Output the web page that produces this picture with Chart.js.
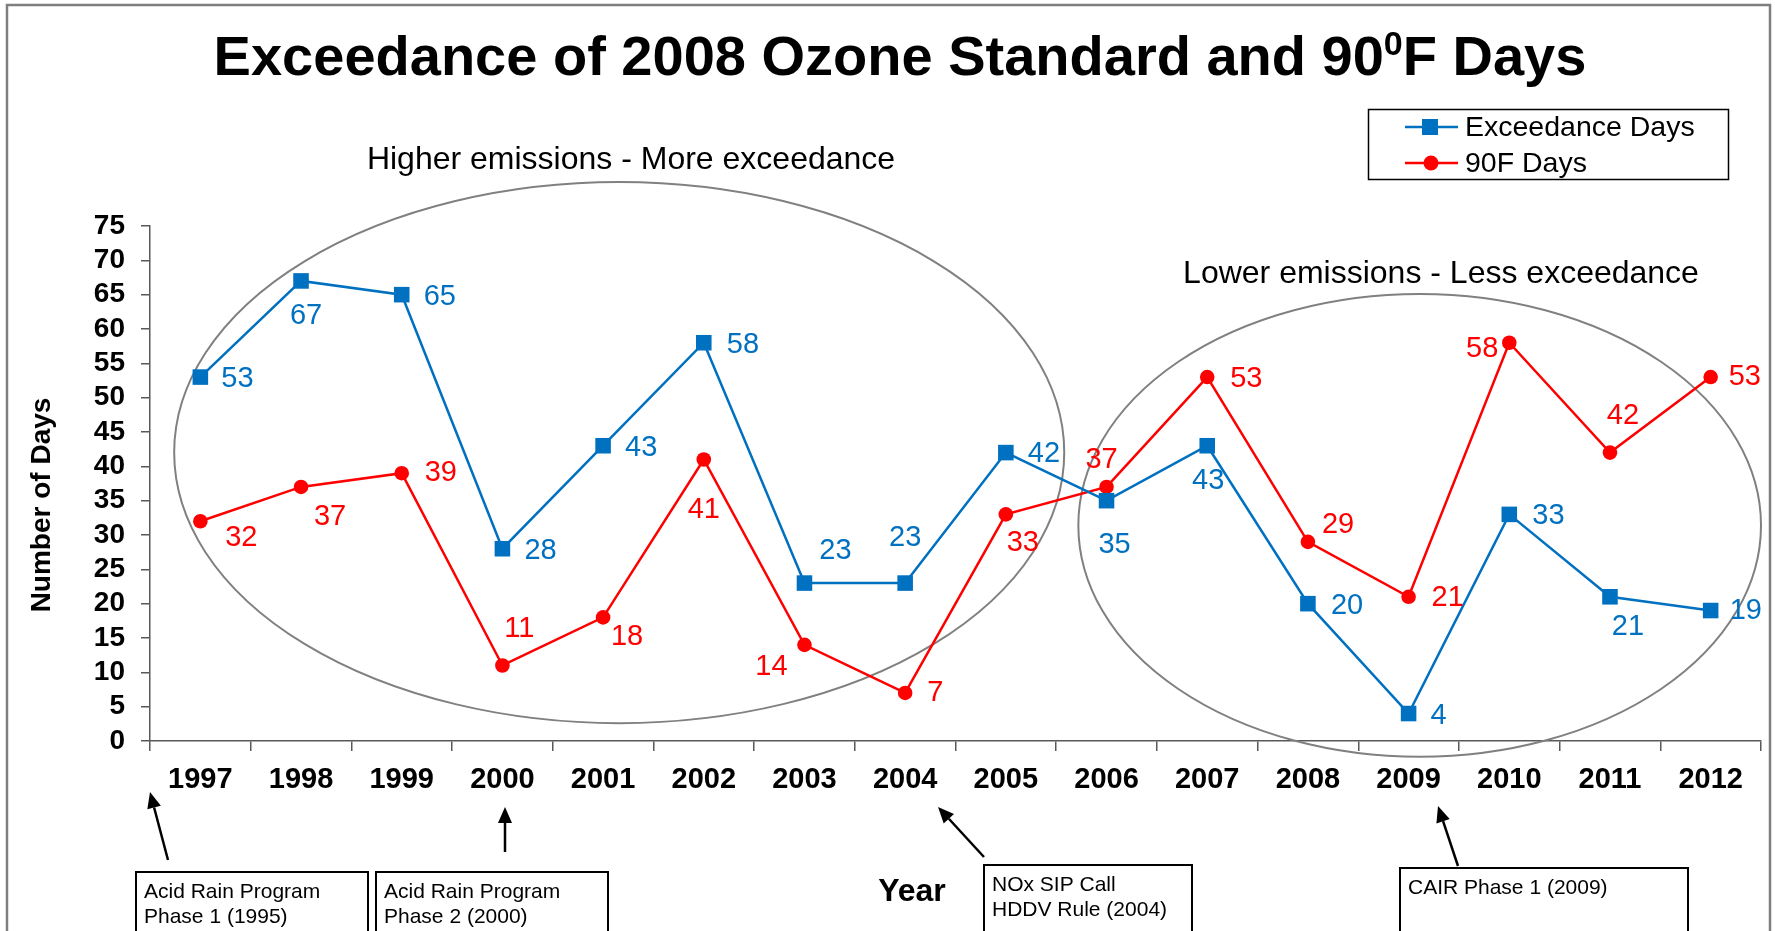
<!DOCTYPE html>
<html>
<head>
<meta charset="utf-8">
<title>Exceedance of 2008 Ozone Standard and 90F Days</title>
<script src="https://cdn.jsdelivr.net/npm/chart.js@4.4.1/dist/chart.umd.min.js"></script>
<style>
  html, body { margin: 0; padding: 0; background: #fff; }
  #wrap { width: 1775px; height: 931px; position: relative; overflow: hidden; }
</style>
</head>
<body>
<div id="wrap"><canvas id="chart" width="1775" height="931"></canvas></div>
<script>
// data
var years = ['1997', '1998', '1999', '2000', '2001', '2002', '2003', '2004',
             '2005', '2006', '2007', '2008', '2009', '2010', '2011', '2012'];
var exceedanceDays = [53, 67, 65, 28, 43, 58, 23, 23, 42, 35, 43, 20, 4, 33, 21, 19];
var hotDays = [32, 37, 39, 11, 18, 41, 14, 7, 33, 37, 53, 29, 21, 58, 42, 53];
var seriesNames = ['Exceedance Days', '90F Days'];
var yMin = 0, yMax = 75, yStep = 5;

var BLUE = '#0070C0',
    RED = '#FF0000',
    FONT = '"Liberation Sans", Arial, sans-serif';

// where each value label sits relative to its point: [align, dx, dy]
var labelSpots = [
  [['left', 21, 2], ['center', 5, 35], ['left', 22, 2], ['left', 22, 2], ['left', 22, 2],
   ['left', 23, 2], ['center', 31, -32], ['center', 0, -45], ['left', 22, 1], ['center', 8, 44],
   ['center', 1, 35], ['left', 23, 2], ['left', 22, 2], ['left', 23, 2], ['center', 18, 30],
   ['left', 19, 0]],
  [['center', 41, 17], ['center', 29, 30], ['left', 23, 0], ['center', 17, -36], ['center', 24, 20],
   ['center', 0, 51], ['center', -33, 22], ['left', 22, 0], ['center', 17, 29], ['center', -5, -27],
   ['left', 23, 2], ['left', 14, -17], ['left', 23, 1], ['right', -11, 6], ['center', 13, -37],
   ['left', 18, 0]]
];

// ellipses in axis units (category index, days)
var ellipses = [
  { cx: 4.16, cy: 42, rx: 4.42, ry: 39.4 },
  { cx: 12.11, cy: 31.4, rx: 3.39, ry: 33.7 }
];

var notes = [
  { text: 'Higher emissions - More exceedance', x: 631, y: 160 },
  { text: 'Lower emissions - Less exceedance', x: 1441, y: 274 }
];

var arrows = [
  { from: [168, 860], to: [150, 792] },
  { from: [505, 852], to: [505, 807] },
  { from: [984, 857], to: [938, 807] },
  { from: [1458, 866], to: [1438, 806] }
];

var boxes = [
  { x: 136, y: 872, w: 232, lines: ['Acid Rain Program', 'Phase 1 (1995)'] },
  { x: 376, y: 872, w: 232, lines: ['Acid Rain Program', 'Phase 2 (2000)'] },
  { x: 984, y: 865, w: 208, lines: ['NOx SIP Call', 'HDDV Rule (2004)'] },
  { x: 1400, y: 868, w: 288, lines: ['CAIR Phase 1 (2009)'] }
];


function drawTitle(ctx) {
  var parts = [
    { t: 'Exceedance of 2008 Ozone Standard and 90', size: 56, rise: 0 },
    { t: '0', size: 34, rise: 20 },
    { t: 'F Days', size: 56, rise: 0 }
  ];
  var total = 0;
  parts.forEach(function (p) {
    ctx.font = 'bold ' + p.size + 'px ' + FONT;
    p.w = ctx.measureText(p.t).width;
    total += p.w;
  });
  var x = 900 - total / 2;
  ctx.fillStyle = '#000';
  ctx.textAlign = 'left';
  ctx.textBaseline = 'alphabetic';
  parts.forEach(function (p) {
    ctx.font = 'bold ' + p.size + 'px ' + FONT;
    ctx.fillText(p.t, x, 75 - p.rise);
    x += p.w;
  });
}

function drawLegend(chart) {
  var ctx = chart.ctx;
  ctx.save();
  ctx.strokeStyle = '#000';
  ctx.lineWidth = 1.5;
  ctx.strokeRect(1368.5, 109.5, 360, 70);
  chart.data.datasets.forEach(function (ds, i) {
    var y = 127 + i * 36;
    ctx.strokeStyle = ds.borderColor;
    ctx.lineWidth = 2.5;
    ctx.beginPath();
    ctx.moveTo(1405, y);
    ctx.lineTo(1458, y);
    ctx.stroke();
    ctx.fillStyle = ds.borderColor;
    if (ds.pointStyle === 'rect') {
      ctx.fillRect(1422, y - 8, 16, 16);
    } else {
      ctx.beginPath();
      ctx.arc(1431, y, 7.5, 0, Math.PI * 2);
      ctx.fill();
    }
    ctx.fillStyle = '#000';
    ctx.font = '28.5px ' + FONT;
    ctx.textAlign = 'left';
    ctx.textBaseline = 'middle';
    ctx.fillText(ds.label, 1465, y + 1);
  });
  ctx.restore();
}

function drawArrow(ctx, a) {
  var dx = a.to[0] - a.from[0], dy = a.to[1] - a.from[1];
  var len = Math.sqrt(dx * dx + dy * dy), ux = dx / len, uy = dy / len;
  var head = 16, half = 7;
  var bx = a.to[0] - ux * head, by = a.to[1] - uy * head;
  ctx.strokeStyle = '#000';
  ctx.fillStyle = '#000';
  ctx.lineWidth = 2.5;
  ctx.beginPath();
  ctx.moveTo(a.from[0], a.from[1]);
  ctx.lineTo(bx, by);
  ctx.stroke();
  ctx.beginPath();
  ctx.moveTo(a.to[0], a.to[1]);
  ctx.lineTo(bx - uy * half, by + ux * half);
  ctx.lineTo(bx + uy * half, by - ux * half);
  ctx.closePath();
  ctx.fill();
}

var overlay = {
  id: 'overlay',
  beforeDatasetsDraw: function (chart) {
    var ctx = chart.ctx, xs = chart.scales.x, ys = chart.scales.y;
    var perCat = xs.getPixelForValue(1) - xs.getPixelForValue(0);
    var perDay = ys.getPixelForValue(0) - ys.getPixelForValue(1);
    ctx.save();
    ctx.strokeStyle = '#808080';
    ctx.lineWidth = 2;
    ellipses.forEach(function (e) {
      ctx.beginPath();
      ctx.ellipse(xs.getPixelForValue(e.cx), ys.getPixelForValue(e.cy),
                  e.rx * perCat, e.ry * perDay, 0, 0, Math.PI * 2);
      ctx.stroke();
    });
    ctx.restore();
  },
  afterDatasetsDraw: function (chart) {
    var ctx = chart.ctx;
    ctx.save();
    ctx.font = '29px ' + FONT;
    ctx.textBaseline = 'middle';
    chart.data.datasets.forEach(function (ds, i) {
      var meta = chart.getDatasetMeta(i);
      ctx.fillStyle = ds.borderColor;
      meta.data.forEach(function (pt, j) {
        var spot = labelSpots[i][j];
        ctx.textAlign = spot[0];
        ctx.fillText(String(ds.data[j]), pt.x + spot[1], pt.y + spot[2]);
      });
    });
    ctx.restore();
  },
  afterDraw: function (chart) {
    var ctx = chart.ctx;
    ctx.save();
    drawTitle(ctx);
    drawLegend(chart);

    ctx.fillStyle = '#000';
    ctx.font = '32px ' + FONT;
    ctx.textAlign = 'center';
    ctx.textBaseline = 'middle';
    notes.forEach(function (n) { ctx.fillText(n.text, n.x, n.y); });

    // axis titles
    ctx.font = 'bold 32px ' + FONT;
    ctx.textBaseline = 'alphabetic';
    ctx.fillText('Year', 912, 901);
    ctx.save();
    ctx.translate(50, 505);
    ctx.rotate(-Math.PI / 2);
    ctx.font = 'bold 28px ' + FONT;
    ctx.fillText('Number of Days', 0, 0);
    ctx.restore();

    arrows.forEach(function (a) { drawArrow(ctx, a); });

    ctx.lineWidth = 2;
    ctx.strokeStyle = '#000';
    ctx.font = '21px ' + FONT;
    ctx.textAlign = 'left';
    boxes.forEach(function (b) {
      ctx.strokeRect(b.x, b.y, b.w, 120);
      b.lines.forEach(function (line, k) {
        ctx.fillText(line, b.x + 8, b.y + 26 + k * 25);
      });
    });

    // outer frame
    ctx.strokeStyle = '#7f7f7f';
    ctx.lineWidth = 2.5;
    ctx.strokeRect(7, 5, 1763, 1000);
    ctx.restore();
  }
};

var chart = new Chart(document.getElementById('chart'), {
  type: 'line',
  data: {
    labels: years,
    datasets: [{
      label: seriesNames[0],
      data: exceedanceDays,
      borderColor: BLUE,
      backgroundColor: BLUE,
      borderWidth: 2.5,
      pointStyle: 'rect',
      pointRadius: 11,
      pointHoverRadius: 11,
      pointBorderWidth: 0,
      tension: 0
    }, {
      label: seriesNames[1],
      data: hotDays,
      borderColor: RED,
      backgroundColor: RED,
      borderWidth: 2.5,
      pointStyle: 'circle',
      pointRadius: 7.3,
      pointHoverRadius: 7.3,
      pointBorderWidth: 0,
      tension: 0
    }]
  },
  options: {
    responsive: false,
    animation: false,
    devicePixelRatio: 1,
    layout: { padding: { left: 0, right: 14, top: 226, bottom: 0 } },
    plugins: {
      legend: { display: false },
      title: { display: false },
      tooltip: { enabled: false }
    },
    scales: {
      x: {
        offset: true,
        afterFit: function (s) { s.height = 190; },
        grid: { offset: true, drawOnChartArea: false, tickLength: 10, tickColor: '#595959', lineWidth: 1.5 },
        border: { color: '#595959', width: 1.5 },
        ticks: {
          autoSkip: false, maxRotation: 0, padding: 12, color: '#000',
          font: { family: FONT, size: 29, weight: 'bold' }
        }
      },
      y: {
        min: yMin,
        max: yMax,
        afterFit: function (s) { s.width = 150; },
        grid: { drawOnChartArea: false, tickLength: 9, tickColor: '#595959', lineWidth: 1.5 },
        border: { color: '#595959', width: 1.5 },
        ticks: {
          stepSize: yStep, autoSkip: false, padding: 16, color: '#000',
          font: { family: FONT, size: 28, weight: 'bold' }
        }
      }
    }
  },
  plugins: [overlay]
});
</script>
</body>
</html>
